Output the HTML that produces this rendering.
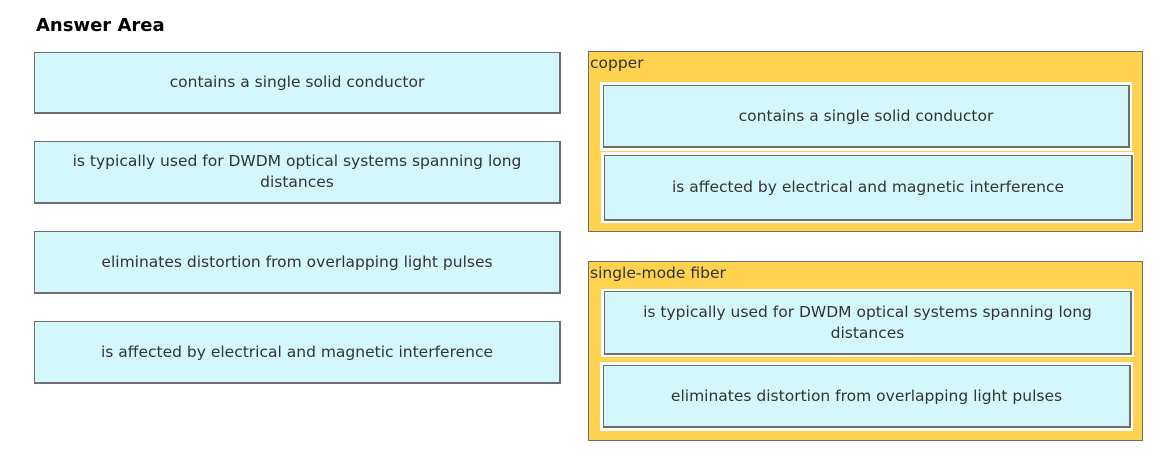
<!DOCTYPE html>
<html><head><style>
body{margin:0;width:1164px;height:456px;background:#fff;position:relative;font-family:"DejaVu Sans","Liberation Sans",sans-serif;overflow:hidden}
.b{position:absolute;box-sizing:border-box;background:#d4f7fb;border:1.5px solid #6e6e6e;border-right-width:2px;border-bottom-width:2px;display:flex;align-items:center;justify-content:center;text-align:center;color:#333;font-size:15.5px;line-height:21px;padding:0 30px}
.c{position:absolute;box-sizing:border-box;background:#ffd34f;border:1.5px solid #6e6e6e}
.w{position:absolute;background:#fff}
.l{position:absolute;font-size:15.5px;color:#333}
</style></head><body>
<div style="position:absolute;left:36px;top:15px;font-weight:bold;font-size:18px;color:#000">Answer Area</div>
<div class="b" style="left:34px;top:52px;width:527px;height:62px">contains a single solid conductor</div>
<div class="b" style="left:34px;top:141px;width:527px;height:63px">is typically used for DWDM optical systems spanning long distances</div>
<div class="b" style="left:34px;top:231px;width:527px;height:63px">eliminates distortion from overlapping light pulses</div>
<div class="b" style="left:34px;top:321px;width:527px;height:63px">is affected by electrical and magnetic interference</div>

<div class="c" style="left:588px;top:51px;width:555px;height:181px"></div>
<div class="l" style="left:590px;top:54px">copper</div>
<div class="w" style="left:600px;top:82px;width:532px;height:69px"></div>
<div class="b" style="left:603px;top:85px;width:527px;height:63px">contains a single solid conductor</div>
<div class="w" style="left:601px;top:152px;width:533px;height:71px"></div>
<div class="b" style="left:604px;top:155px;width:529px;height:66px">is affected by electrical and magnetic interference</div>

<div class="c" style="left:588px;top:261px;width:555px;height:180px"></div>
<div class="l" style="left:590px;top:264px">single-mode fiber</div>
<div class="w" style="left:601px;top:289px;width:533px;height:68px"></div>
<div class="b" style="left:604px;top:291px;width:528px;height:64px">is typically used for DWDM optical systems spanning long distances</div>
<div class="w" style="left:600px;top:362px;width:533px;height:69px"></div>
<div class="b" style="left:603px;top:365px;width:528px;height:63px">eliminates distortion from overlapping light pulses</div>
</body></html>
